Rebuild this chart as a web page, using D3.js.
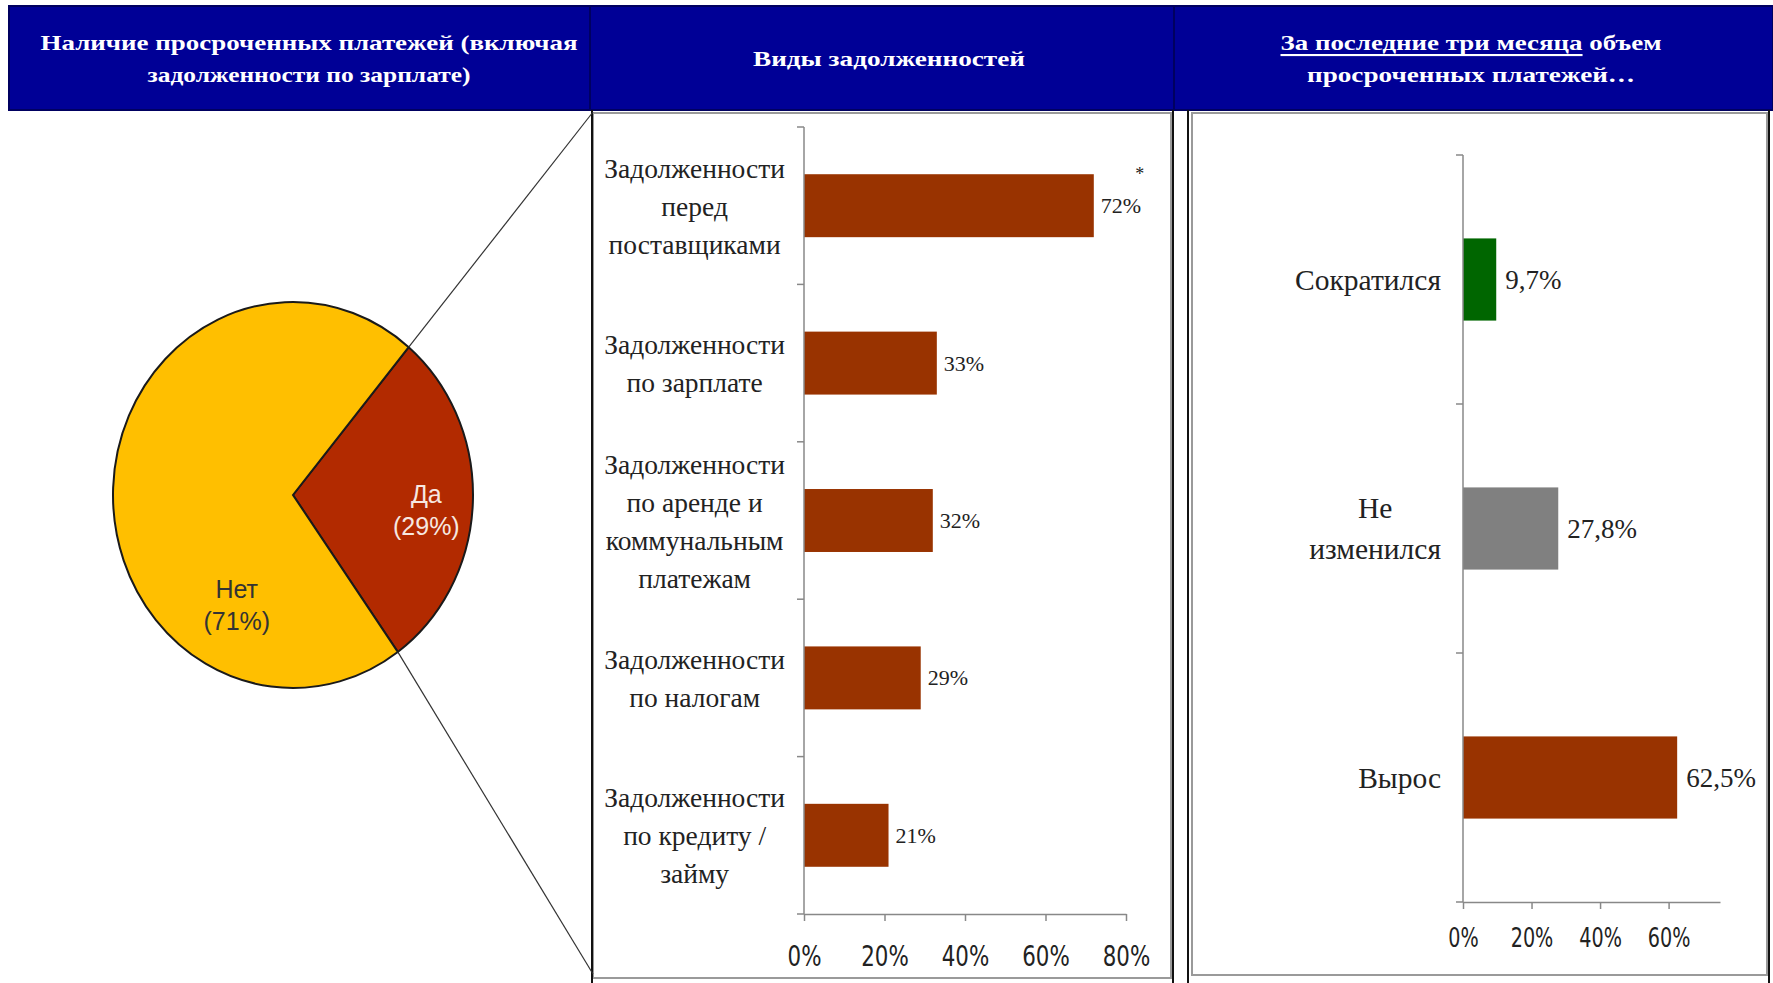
<!DOCTYPE html>
<html><head><meta charset="utf-8">
<script src="https://cdn.jsdelivr.net/npm/d3@7"></script>
<style>body{margin:0;background:#fff;} svg{display:block}</style>
</head><body>
<svg id="chart" width="1773" height="983"></svg>
<script>
// ---------- DATA ----------
const headerLines = [
  ["Наличие просроченных платежей (включая", "задолженности по зарплате)"],
  ["Виды задолженностей"],
  ["За последние три месяца|| объем", "просроченных платежей…"]
];
const pieCategories = ["Да", "Нет"];
const pieValues = [29, 71];
const pieLabels = ["(29%)", "(71%)"];

const debtCategories = [
  "Задолженности\nперед\nпоставщиками",
  "Задолженности\nпо зарплате",
  "Задолженности\nпо аренде и\nкоммунальным\nплатежам",
  "Задолженности\nпо налогам",
  "Задолженности\nпо кредиту /\nзайму"
];
const debtValues = [0.72, 0.33, 0.32, 0.29, 0.21];
const debtLabels = ["72%", "33%", "32%", "29%", "21%"];
const debtTicks = [0, 0.2, 0.4, 0.6, 0.8];

const changeCategories = ["Сократился", "Не\nизменился", "Вырос"];
const changeValues = [0.097, 0.278, 0.625];
const changeLabels = ["9,7%", "27,8%", "62,5%"];
const changeTicks = [0, 0.2, 0.4, 0.6];

// ---------- STYLE ----------
const NAVY = "#000096", BROWN = "#993300", RED = "#b22a00", YELLOW = "#ffbf00";
const changeColors = ["#006600", "#808080", BROWN];
const SERIF = "'Liberation Serif','DejaVu Serif',serif";
const NARROW = "'DejaVu Sans',sans-serif";
const SANS = "'Liberation Sans',Arial,sans-serif";

const svg = d3.select("#chart");

// ---------- HEADERS ----------
const headerSegs = [[9, 590], [590, 1174], [1174, 1773]];
const headerWidths = [[537, 323], [272], [381, 328]];
headerSegs.forEach((s, i) => {
  svg.append("rect").attr("x", s[0]).attr("y", 6).attr("width", s[1] - s[0]).attr("height", 104)
    .attr("fill", NAVY).attr("stroke", "#000060").attr("stroke-width", 2);
  const lines = headerLines[i];
  const cx = [309, 889, 1471][i];
  const ys = lines.length === 1 ? [59] : [43, 75];
  lines.forEach((ln, j) => {
    const t = svg.append("text").attr("x", cx).attr("y", ys[j]).attr("text-anchor", "middle")
      .attr("dominant-baseline", "central").attr("fill", "#fff")
      .attr("font-family", SERIF).attr("font-weight", "bold").attr("font-size", 21)
      .attr("textLength", headerWidths[i][j]).attr("lengthAdjust", "spacingAndGlyphs");
    if (ln.includes("||")) {
      const [a, b] = ln.split("||");
      t.append("tspan").attr("text-decoration", "underline").text(a);
      t.append("tspan").text(b);
    } else t.text(ln);
  });
});

// ---------- PANEL FRAMES ----------
svg.append("rect").attr("x", 593).attr("y", 113).attr("width", 578).attr("height", 865)
  .attr("fill", "none").attr("stroke", "#9a9a9a").attr("stroke-width", 2);
svg.append("rect").attr("x", 1192).attr("y", 113).attr("width", 575).attr("height", 862)
  .attr("fill", "none").attr("stroke", "#9a9a9a").attr("stroke-width", 2);
[592, 1173, 1188, 1769].forEach(x => {
  svg.append("line").attr("x1", x).attr("x2", x).attr("y1", 110).attr("y2", 983)
    .attr("stroke", "#111").attr("stroke-width", 2);
});

// ---------- PIE ----------
const pcx = 293, pcy = 495, prx = 180, pry = 193, k = pry / prx;
const a0 = 40 * Math.PI / 180;
const pie = d3.pie().sort(null).startAngle(a0).endAngle(a0 + 2 * Math.PI);
const arcs = pie(pieValues);
const arc = d3.arc().innerRadius(0).outerRadius(prx);
const pg = svg.append("g").attr("transform", `translate(${pcx},${pcy}) scale(1,${k})`);
pg.selectAll("path").data(arcs).join("path")
  .attr("d", arc).attr("fill", (d, i) => i === 0 ? RED : YELLOW)
  .attr("stroke", "#1a1a1a").attr("stroke-width", 2).attr("vector-effect", "non-scaling-stroke");

// connector lines from the "Да" slice edges to the middle panel
const edgePt = a => [pcx + prx * Math.sin(a), pcy - pry * Math.cos(a)];
const pTop = edgePt(arcs[0].startAngle), pBot = edgePt(arcs[0].endAngle);
svg.append("line").attr("x1", pTop[0]).attr("y1", pTop[1]).attr("x2", 593).attr("y2", 112)
  .attr("stroke", "#333").attr("stroke-width", 1.2);
svg.append("line").attr("x1", pBot[0]).attr("y1", pBot[1]).attr("x2", 593).attr("y2", 974)
  .attr("stroke", "#333").attr("stroke-width", 1.2);

// pie labels
const labelAngle = [(arcs[0].startAngle + arcs[0].endAngle) / 2 + 0.06, 209 * Math.PI / 180];
const labelRad = [134, 116];
arcs.forEach((d, i) => {
  const a = labelAngle[i];
  const x = pcx + labelRad[i] * Math.sin(a), y = pcy - labelRad[i] * k * Math.cos(a);
  const col = i === 0 ? "#f7e8e0" : "#333";
  const t = svg.append("text").attr("x", x).attr("y", y).attr("text-anchor", "middle")
    .attr("font-family", SANS).attr("font-size", 25).attr("fill", col);
  t.append("tspan").attr("x", x).attr("dy", "-0.25em").text(pieCategories[i]);
  t.append("tspan").attr("x", x).attr("dy", "1.3em").text(pieLabels[i]);
});

// ---------- helper for horizontal bar chart ----------
function barChart(o) {
  const x = d3.scaleLinear().domain(o.xDomain).range([o.x0, o.x1]);
  const y = d3.scaleBand().domain(o.cats).range([o.yTop, o.yBot])
    .paddingInner(o.pad).paddingOuter(o.pad / 2);
  const g = svg.append("g");
  // bars
  g.selectAll("rect.bar").data(o.cats).join("rect").attr("class", "bar")
    .attr("x", x(0)).attr("y", c => y(c)).attr("height", y.bandwidth())
    .attr("width", (c, i) => x(o.values[i]) - x(0))
    .attr("fill", (c, i) => o.colors[i]);
  // y axis line + category ticks
  g.append("line").attr("x1", x(0)).attr("x2", x(0)).attr("y1", o.yTop).attr("y2", o.yBot)
    .attr("stroke", "#888").attr("stroke-width", 1.5);
  const bounds = o.cats.map(c => y(c) - y.step() * o.pad / 2).concat([o.yBot]);
  g.selectAll("line.ct").data(bounds).join("line").attr("class", "ct")
    .attr("x1", x(0) - 7).attr("x2", x(0)).attr("y1", d => d).attr("y2", d => d)
    .attr("stroke", "#888").attr("stroke-width", 1.5);
  // x axis
  const ax = g.append("g").attr("transform", `translate(0,${o.yBot})`)
    .call(d3.axisBottom(x).tickValues(o.ticks).tickFormat(d3.format(".0%"))
      .tickSize(7).tickSizeOuter(0).tickPadding(o.tickPad));
  ax.select(".domain").attr("stroke", "#888").attr("stroke-width", 1.5);
  ax.selectAll(".tick line").attr("stroke", "#888").attr("stroke-width", 1.5);
  ax.selectAll(".tick text").attr("font-family", NARROW).attr("font-stretch", "condensed")
    .attr("font-size", o.tickFont).attr("fill", "#222")
    .attr("transform", `scale(${o.tickSx},1)`);
  // value labels
  g.selectAll("text.val").data(o.cats).join("text").attr("class", "val")
    .attr("x", (c, i) => x(o.values[i]) + o.valGap).attr("y", c => y(c) + y.bandwidth() / 2)
    .attr("dominant-baseline", "central").attr("font-family", SERIF)
    .attr("font-size", o.valFont).attr("fill", "#222")
    .text((c, i) => o.labels[i]);
  // category labels (multi-line, centred block, right-aligned to axis)
  o.cats.forEach(c => {
    const lines = c.split("\n");
    const t = g.append("text").attr("font-family", SERIF).attr("font-size", o.catFont)
      .attr("fill", "#222").attr("text-anchor", "middle").attr("dominant-baseline", "central");
    const ts = lines.map(l => t.append("tspan").text(l));
    const w = d3.max(ts, s => s.node().getComputedTextLength());
    const cx = x(0) - o.catGap - w / 2;
    const cy = y(c) + y.bandwidth() / 2;
    ts.forEach((s, j) => s.attr("x", cx).attr("y", cy + (j - (lines.length - 1) / 2) * o.lineH));
  });
  return {x, y};
}

// ---------- MIDDLE CHART ----------
const mid = barChart({
  cats: debtCategories, values: debtValues, labels: debtLabels,
  colors: debtValues.map(() => BROWN), ticks: debtTicks,
  xDomain: [0, 0.8], x0: 804, x1: 1126, yTop: 127, yBot: 914, pad: 0.6,
  tickPad: 24, tickFont: 29, tickSx: 0.82, valFont: 22, valGap: 7,
  catFont: 27.5, catGap: 19, lineH: 38
});
// footnote asterisk on first bar
svg.append("text").attr("x", mid.x(debtValues[0]) + 46).attr("y", mid.y(debtCategories[0]) + 6)
  .attr("text-anchor", "middle").attr("font-family", SERIF).attr("font-size", 18)
  .attr("fill", "#222").text("*");

// ---------- RIGHT CHART ----------
barChart({
  cats: changeCategories, values: changeValues, labels: changeLabels,
  colors: changeColors, ticks: changeTicks,
  xDomain: [0, 0.75], x0: 1463, x1: 1720, yTop: 155, yBot: 902, pad: 0.67,
  tickPad: 20, tickFont: 26, tickSx: 0.82, valFont: 27, valGap: 9,
  catFont: 29.5, catGap: 22, lineH: 41
});
</script>
</body></html>
